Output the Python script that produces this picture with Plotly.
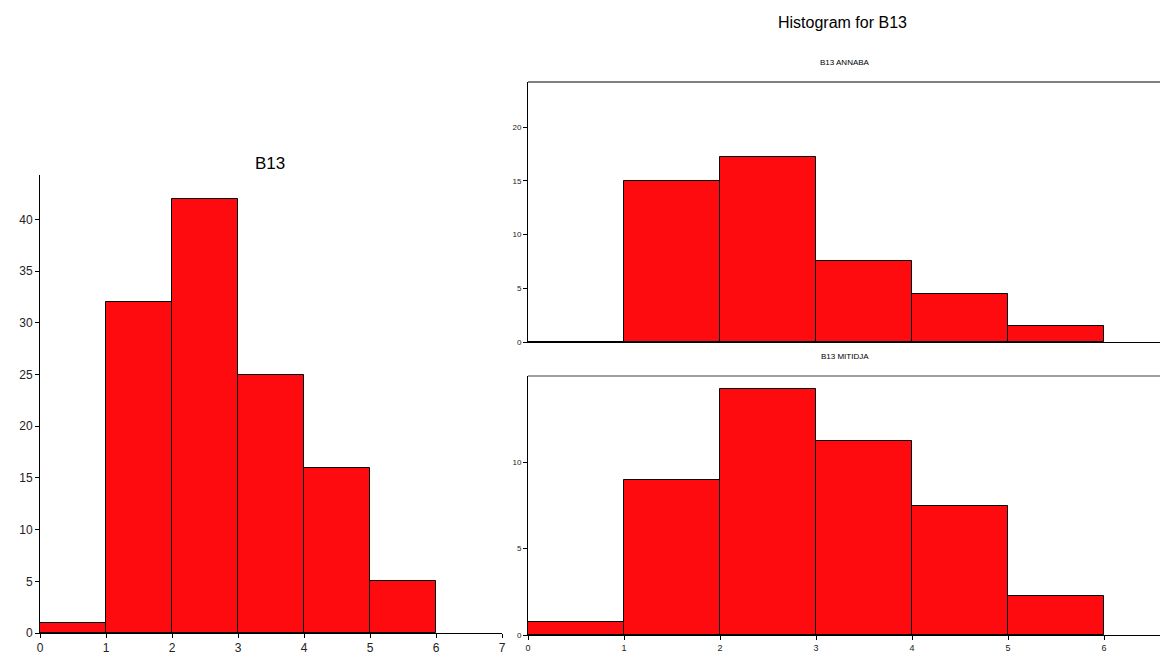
import plotly.graph_objects as go

# bin edges 0..6, counts per unit-width bin
bins = [0, 1, 2, 3, 4, 5]
b13_all = [1, 32, 42, 25, 16, 5]
b13_annaba = [0, 15, 17.25, 7.5, 4.5, 1.5]
b13_mitidja = [0.75, 9, 14.25, 11.25, 7.5, 2.25]

W, H = 1160, 652
RED = "#fd0b0f"
FONT = "Liberation Sans, Arial, sans-serif"


def px_x(p):
    return p / W


def px_y(p):
    return 1 - p / H


mids = [b + 0.5 for b in bins]
bar_style = dict(width=1, marker=dict(color=RED, line=dict(color="black", width=1)),
                 showlegend=False, hoverinfo="x+y")

fig = go.Figure()
fig.add_trace(go.Bar(x=mids, y=b13_all, xaxis="x", yaxis="y", **bar_style))
fig.add_trace(go.Bar(x=mids, y=b13_annaba, xaxis="x2", yaxis="y2", **bar_style))
fig.add_trace(go.Bar(x=mids, y=b13_mitidja, xaxis="x3", yaxis="y3", **bar_style))

ax_common = dict(showgrid=False, zeroline=False, ticklen=4,
                 tickcolor="black", linecolor="black", showline=True, automargin=False)


def tf(size):
    return dict(size=size, color="#222222", family=FONT)


fig.update_layout(
    width=W, height=H,
    margin=dict(l=0, r=0, t=0, b=0),
    template="none",
    plot_bgcolor="white", paper_bgcolor="white",
    bargap=0,
    font=dict(family=FONT, color="black"),
    xaxis=dict(domain=[px_x(40), px_x(502)], range=[0, 7], dtick=1, ticks="outside",
               anchor="y", tickfont=tf(12), **ax_common),
    yaxis=dict(domain=[px_y(633), px_y(175)], range=[0, 44.3], dtick=5, ticks="outside",
               anchor="x", tickfont=tf(12), **ax_common),
    xaxis2=dict(domain=[px_x(528), 1.0], range=[0, 6.583], dtick=1, ticks="",
                anchor="y2", showticklabels=False, **ax_common),
    yaxis2=dict(domain=[px_y(342), px_y(82)], range=[0, 24.2], dtick=5, ticks="outside",
                anchor="x2", tickfont=tf(8), **ax_common),
    xaxis3=dict(domain=[px_x(528), 1.0], range=[0, 6.583], dtick=1, ticks="outside",
                anchor="y3", tickfont=tf(9), **ax_common),
    yaxis3=dict(domain=[px_y(635), px_y(376)], range=[0, 15], tickvals=[0, 5, 10],
                ticks="outside", anchor="x3", tickfont=tf(8), **ax_common),
    shapes=[
        dict(type="line", xref="paper", yref="paper", x0=px_x(528), x1=1.0,
             y0=px_y(82), y1=px_y(82), line=dict(color="#808080", width=2)),
        dict(type="line", xref="paper", yref="paper", x0=px_x(528), x1=1.0,
             y0=px_y(376), y1=px_y(376), line=dict(color="#808080", width=1.5)),
    ],
    annotations=[
        dict(text="B13", x=px_x(270), y=px_y(163), font=dict(size=17)),
        dict(text="Histogram for B13", x=px_x(842), y=px_y(22), font=dict(size=16)),
        dict(text="B13 ANNABA", x=px_x(845), y=px_y(62), font=dict(size=8)),
        dict(text="B13 MITIDJA", x=px_x(845), y=px_y(357), font=dict(size=8)),
    ],
)
fig.update_annotations(xref="paper", yref="paper", xanchor="center", yanchor="middle",
                       showarrow=False)

fig.write_html("out.html", config={"displayModeBar": False},
               post_script="document.body.style.margin='0';")
